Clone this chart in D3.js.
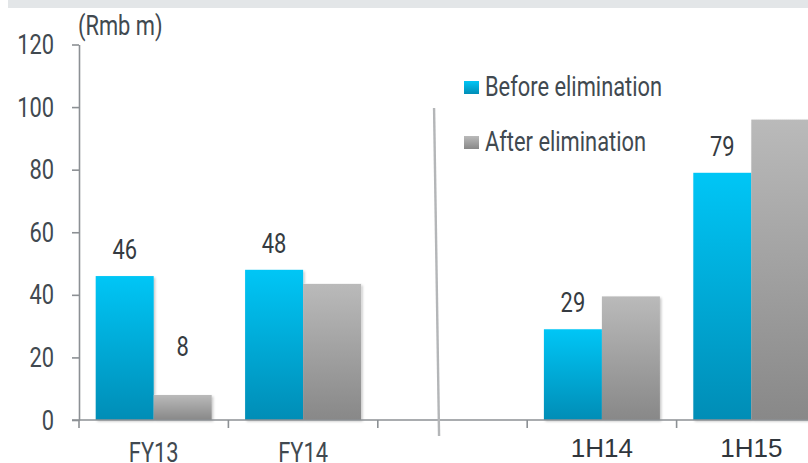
<!DOCTYPE html>
<html>
<head>
<meta charset="utf-8">
<script src="https://cdn.jsdelivr.net/npm/d3@7"></script>
<style>
  html, body { margin: 0; padding: 0; background: #fff; }
  svg { display: block; }
  .narrow { font-family: "Roboto", "Liberation Sans", sans-serif; }
</style>
</head>
<body>
<svg id="chart" width="808" height="463"></svg>
<script>
// Periods on the x axis; the empty slot separates full years from half years
const categories = ["FY13", "FY14", "", "1H14", "1H15"];
const seriesNames = ["Before elimination", "After elimination"];
const beforeValues = [46, 48, null, 29, 79];
const afterValues = [8, 43.5, null, 39.5, 96];
// Value labels shown above bars (series key, category, value)
const valueLabels = [
  { series: "before", cat: "FY13", value: 46 },
  { series: "after", cat: "FY13", value: 8 },
  { series: "before", cat: "FY14", value: 48 },
  { series: "before", cat: "1H14", value: 29 },
  { series: "before", cat: "1H15", value: 79 }
];
const yTicks = [0, 20, 40, 60, 80, 100, 120];
const yUnit = "(Rmb m)";

const svg = d3.select("#chart");
const W = 808, H = 463;
const axisColor = "#8c9094";
const textColor = "#414950";
const squeeze = 0.81; // horizontal compression for the condensed labels

// condensed text: placed with a translate, then squeezed horizontally
function narrowText(parent, px, py, str, anchor, size, fill) {
  return parent.append("text")
    .attr("class", "narrow")
    .attr("transform", `translate(${px},${py}) scale(${squeeze},1)`)
    .attr("text-anchor", anchor)
    .attr("font-size", size)
    .attr("fill", fill)
    .text(str);
}

// header band
svg.append("rect").attr("x", 8).attr("y", 0).attr("width", W - 8).attr("height", 8).attr("fill", "#e3e6e8");

const defs = svg.append("defs");
const gBlue = defs.append("linearGradient").attr("id", "gBlue").attr("x1", 0).attr("y1", 0).attr("x2", 0).attr("y2", 1);
gBlue.append("stop").attr("offset", "0%").attr("stop-color", "#00c6f6");
gBlue.append("stop").attr("offset", "100%").attr("stop-color", "#008db6");
const gGray = defs.append("linearGradient").attr("id", "gGray").attr("x1", 0).attr("y1", 0).attr("x2", 0).attr("y2", 1);
gGray.append("stop").attr("offset", "0%").attr("stop-color", "#bababa");
gGray.append("stop").attr("offset", "100%").attr("stop-color", "#888888");
const shadow = defs.append("filter").attr("id", "shadow").attr("x", "-10%").attr("y", "-10%").attr("width", "130%").attr("height", "130%");
shadow.append("feDropShadow").attr("dx", 1.5).attr("dy", 1.5).attr("stdDeviation", 1.2).attr("flood-color", "#000").attr("flood-opacity", 0.22);

const x0 = 79, y0 = 420;
const x = d3.scaleBand().domain(categories).range([x0, 826]).paddingInner(0).paddingOuter(0);
const y = d3.scaleLinear().domain([0, 120]).range([y0, 44.5]);
const x1 = d3.scaleBand().domain(["before", "after"]).range([0, x.bandwidth()]).paddingInner(0).paddingOuter(0.288);

const rows = categories.map((c, i) => ({ cat: c, before: beforeValues[i], after: afterValues[i] }));

// bars
const fills = { before: "url(#gBlue)", after: "url(#gGray)" };
const barG = svg.append("g").attr("filter", "url(#shadow)");
rows.forEach(r => {
  ["before", "after"].forEach(k => {
    if (r[k] == null) return;
    barG.append("rect")
      .attr("x", x(r.cat) + x1(k))
      .attr("y", y(r[k]))
      .attr("width", x1.bandwidth())
      .attr("height", y0 - y(r[k]))
      .attr("fill", fills[k]);
  });
});

// y axis
const yAxis = d3.axisLeft(y).tickValues(yTicks).tickSize(7).tickFormat("").tickSizeOuter(0);
const gy = svg.append("g").attr("transform", `translate(${x0},0)`).call(yAxis);
gy.select(".domain").attr("stroke", axisColor).attr("stroke-width", 1.6);
gy.selectAll(".tick line").attr("stroke", axisColor).attr("stroke-width", 1.6);
const yLab = svg.append("g");
yTicks.forEach(t => narrowText(yLab, 54, y(t) + 9.5, t, "end", 27, textColor));

// x axis baseline with ticks at category boundaries
const bounds = categories.map(c => x(c)).concat([x(categories[categories.length - 1]) + x.bandwidth()]);
svg.append("line").attr("x1", x0 - 7).attr("x2", W).attr("y1", y0).attr("y2", y0).attr("stroke", axisColor).attr("stroke-width", 1.6);
svg.selectAll(".xtick").data(bounds).join("line")
  .attr("x1", d => d).attr("x2", d => d).attr("y1", y0).attr("y2", y0 + 8)
  .attr("stroke", axisColor).attr("stroke-width", 1.6);

// category labels: full years condensed grey, half years regular dark
const xLab = svg.append("g");
categories.forEach(c => {
  if (!c) return;
  const cx = x(c) + x.bandwidth() / 2;
  if (c.startsWith("1H")) {
    xLab.append("text")
      .attr("x", cx).attr("y", 457)
      .attr("text-anchor", "middle")
      .attr("font-family", "'Liberation Sans', Arial, sans-serif")
      .attr("font-size", 26)
      .attr("fill", "#30363c")
      .text(c);
  } else {
    narrowText(xLab, cx, 462, c, "middle", 27, textColor);
  }
});

// divider between the yearly and half-yearly periods
const divX = x("") + x.bandwidth() * 0.39;
svg.append("line").attr("x1", divX - 2).attr("y1", 108).attr("x2", divX + 3).attr("y2", y0 + 16)
  .attr("stroke", "#b4b6b8").attr("stroke-width", 2.4);

// value labels; short bars get their label lifted to a minimum height
const vLab = svg.append("g");
valueLabels.forEach(d => {
  narrowText(vLab, x(d.cat) + x1(d.series) + x1.bandwidth() / 2, y(Math.max(d.value, 15)) - 17,
    d.value, "middle", 27, "#353b41");
});

// unit label
narrowText(svg, 78, 35, yUnit, "start", 27, textColor);

// legend
const legend = svg.append("g").attr("transform", "translate(464,0)");
const legendY = [81, 136];
seriesNames.forEach((name, i) => {
  legend.append("rect").attr("x", 0).attr("y", legendY[i]).attr("width", 15).attr("height", 13)
    .attr("fill", i === 0 ? "url(#gBlue)" : "url(#gGray)");
  narrowText(legend, 21, legendY[i] + 15, name, "start", 27, textColor);
});
</script>
</body>
</html>
